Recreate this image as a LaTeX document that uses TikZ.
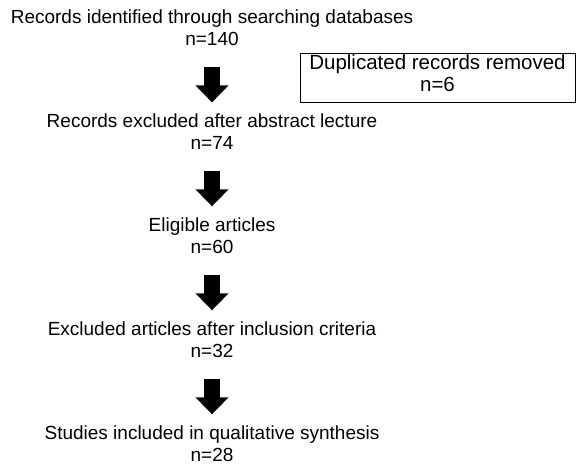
\documentclass[tikz,border=0pt]{standalone}
\usepackage{fontspec}
\setmainfont{Liberation Sans}
\usetikzlibrary{positioning}
\usetikzlibrary{arrows.meta}

\begin{document}
\begin{tikzpicture}
	[x=1pt, y=1pt, node distance={104pt}, on grid,
	 main/.style = {align=center, inner sep=0pt, font=\fontsize{19}{22}\selectfont},
	 side/.style = {align=center, inner sep=0pt, font=\fontsize{20.5}{22}\selectfont, draw, line width=1pt, text depth=9pt, minimum width=275pt, minimum height=49pt},
	 block/.style = {line width=16pt, -{Triangle[width=32pt, length=17pt]}, shorten <=21.5pt, shorten >=11pt}]
	\useasboundingbox (0,0) rectangle (576,-466);
	\node[main] (1) at (212,-27.5) {Records identified through searching databases\\n=140};
	\node[main] (2) [below = of 1] {Records excluded after abstract lecture\\n=74};
	\node[main] (3) [below = of 2] {Eligible articles\\n=60};
	\node[main] (4) [below = of 3] {Excluded articles after inclusion criteria\\n=32};
	\node[main] (5) [below = of 4] {Studies included in qualitative synthesis\\n=28};
	\node[side] (6) at (437.5,-77.5) {Duplicated records removed\\n=6};
	\draw[block] (1) -- (2);
	\draw[block] (2) -- (3);
	\draw[block] (3) -- (4);
	\draw[block] (4) -- (5);
\end{tikzpicture}
\end{document}
